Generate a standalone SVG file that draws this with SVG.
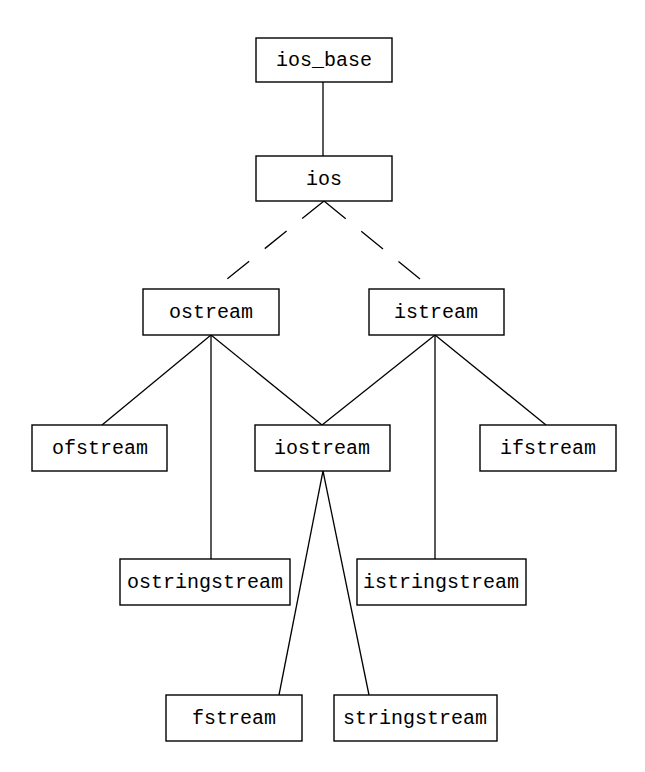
<svg xmlns="http://www.w3.org/2000/svg" width="645" height="772" viewBox="0 0 645 772">
<style>
.box{fill:#fff;stroke:#000;stroke-width:1.4}
.lbl{font-family:"Liberation Mono","Courier New",monospace;font-size:20px;fill:#000;text-anchor:middle}
.ln{stroke:#000;stroke-width:1.3;fill:none}
.dash{stroke-dasharray:28 20}
</style>
<rect width="645" height="772" fill="#fff"/>
<g id="connectors">
<line class="ln" x1="323" y1="82" x2="323" y2="156"/>
<line class="ln dash" x1="324" y1="201" x2="227" y2="279"/>
<line class="ln dash" x1="324" y1="201" x2="420" y2="279"/>
<line class="ln" x1="211" y1="335" x2="102" y2="425"/>
<line class="ln" x1="211" y1="335" x2="211" y2="559"/>
<line class="ln" x1="211" y1="335" x2="322" y2="425"/>
<line class="ln" x1="435" y1="335" x2="322" y2="425"/>
<line class="ln" x1="435" y1="335" x2="435" y2="559"/>
<line class="ln" x1="435" y1="335" x2="546" y2="425"/>
<line class="ln" x1="323" y1="471" x2="279" y2="695"/>
<line class="ln" x1="323" y1="471" x2="369" y2="695"/>
</g>
<g id="ios_base"><rect class="box" x="256" y="38" width="136" height="44"/><text class="lbl" x="324" y="66">ios_base</text></g>
<g id="ios"><rect class="box" x="256" y="156" width="136" height="45"/><text class="lbl" x="324" y="185">ios</text></g>
<g id="ostream"><rect class="box" x="143" y="289" width="136" height="46"/><text class="lbl" x="211" y="318">ostream</text></g>
<g id="istream"><rect class="box" x="369" y="289" width="135" height="46"/><text class="lbl" x="436" y="318">istream</text></g>
<g id="ofstream"><rect class="box" x="32" y="425" width="135" height="46"/><text class="lbl" x="100" y="454">ofstream</text></g>
<g id="iostream"><rect class="box" x="255" y="425" width="135" height="46"/><text class="lbl" x="322" y="454">iostream</text></g>
<g id="ifstream"><rect class="box" x="480" y="425" width="136" height="46"/><text class="lbl" x="548" y="454">ifstream</text></g>
<g id="ostringstream"><rect class="box" x="120" y="559" width="170" height="46"/><text class="lbl" x="205" y="588">ostringstream</text></g>
<g id="istringstream"><rect class="box" x="357" y="559" width="169" height="46"/><text class="lbl" x="441" y="588">istringstream</text></g>
<g id="fstream"><rect class="box" x="166" y="695" width="136" height="46"/><text class="lbl" x="234" y="724">fstream</text></g>
<g id="stringstream"><rect class="box" x="334" y="695" width="163" height="46"/><text class="lbl" x="415" y="724">stringstream</text></g>
</svg>
